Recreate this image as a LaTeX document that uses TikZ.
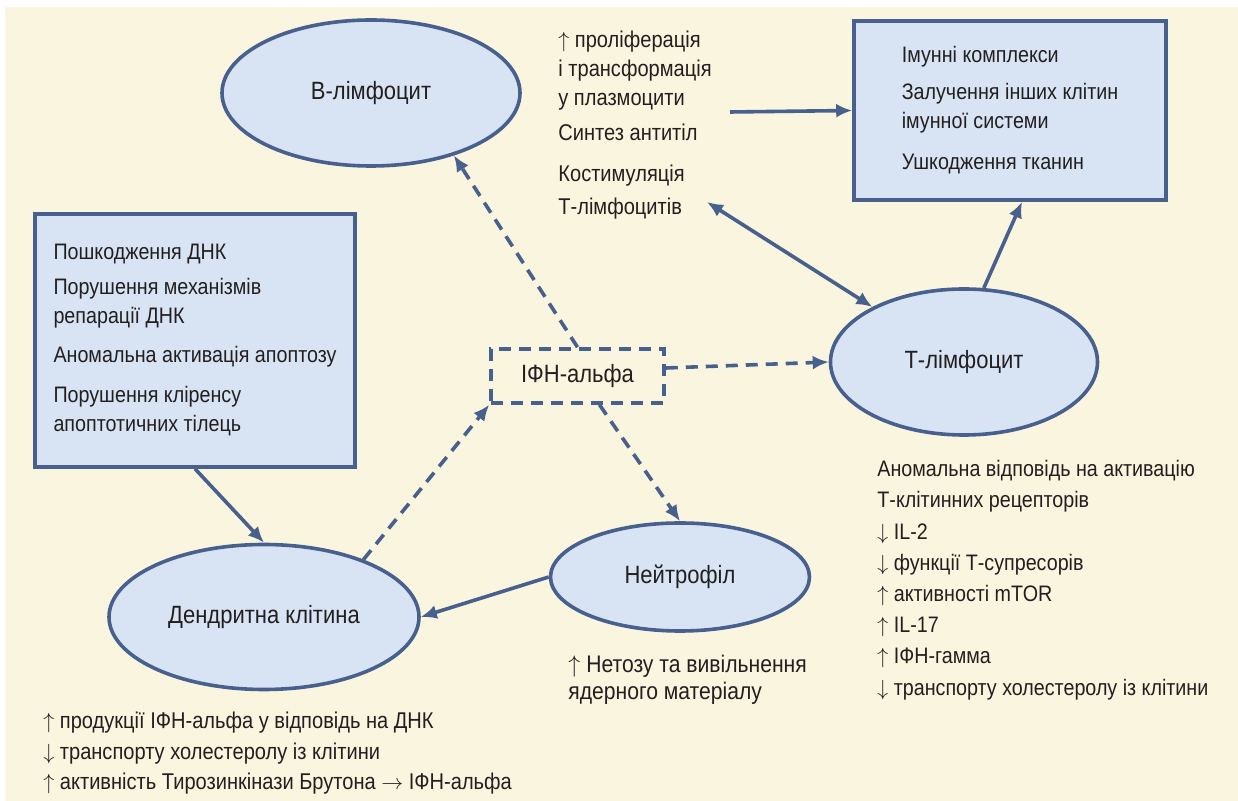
\documentclass[tikz,border=0pt]{standalone}
\usepackage{fontspec}
\setmainfont{Liberation Sans}[FakeStretch=0.88]
\usetikzlibrary{arrows.meta,shapes.geometric}
\definecolor{cream}{RGB}{250,245,222}
\definecolor{cellfill}{RGB}{216,228,244}
\definecolor{cellline}{RGB}{72,96,142}
\definecolor{ink}{RGB}{35,31,32}

\begin{document}
\begin{tikzpicture}[x=0.5pt,y=-0.5pt,
    font=\fontsize{11.2pt}{14.5pt}\selectfont,
    cell/.style={ellipse,draw=cellline,fill=cellfill,line width=1.8pt,
      text=ink,font=\fontsize{12.5pt}{14.5pt}\selectfont},
    fxbox/.style={draw=cellline,fill=cellfill,line width=1.8pt,
      align=left,text=ink},
    txt/.style={align=left,anchor=north west,inner sep=0pt,text=ink},
    arw/.style={draw=cellline,line width=1.8pt,
      -{Latex[length=8pt,width=7pt]}},
    dsh/.style={arw,dash pattern=on 6pt off 4pt} ]
  \useasboundingbox (0,0) rectangle (1238,801);
  \fill[white] (0,0) rectangle (1238,801);
  \fill[cream] (5,7) rectangle (1238,801);
  % cells
  \node[cell,minimum width=149pt,minimum height=73pt] (bcell) at (371,93) {В-лімфоцит};
  \node[cell,minimum width=133.5pt,minimum height=73pt] (tcell) at (964,362) {Т-лімфоцит};
  \node[cell,minimum width=155pt,minimum height=72.5pt] (dcell) at (264,617) {Дендритна клітина};
  \node[cell,minimum width=129.5pt,minimum height=54pt] (ncell) at (680,577) {Нейтрофіл};
  \node[draw=cellline,line width=1.8pt,dash pattern=on 6pt off 4pt,
    minimum width=86.5pt,minimum height=27pt,text=ink,
    font=\fontsize{12.5pt}{14.5pt}\selectfont] (ifn) at (577.5,376) {ІФН-альфа};
  % boxes
  \node[fxbox,minimum width=160pt,minimum height=126.5pt] (dnabox) at (195,340.5)
    {Пошкодження ДНК\\[3pt]
     Порушення механізмів\\
     репарації ДНК\\[5pt]
     Аномальна активація апоптозу\\[5.5pt]
     Порушення кліренсу\\
     апоптотичних тілець};
  \node[fxbox,minimum width=156pt,minimum height=89.5pt] (rbox) at (1010,110.5)
    {Імунні комплекси\\[4pt]
     Залучення інших клітин\\
     імунної системи\\[6pt]
     Ушкодження тканин};
  % effects
  \node[txt,font=\fontsize{11.4pt}{14.5pt}\selectfont] (bfx) at (558,31)
    {$\uparrow$ проліферація\\
     і трансформація\\
     у плазмоцити\\[3pt]
     Синтез антитіл\\[6pt]
     Костимуляція\\[2pt]
     Т-лімфоцитів};
  \node[txt,font=\fontsize{11.2pt}{15.6pt}\selectfont] (tfx) at (877,460)
    {Аномальна відповідь на активацію\\
     Т-клітинних рецепторів\\
     $\downarrow$ IL-2\\
     $\downarrow$ функції Т-супресорів\\
     $\uparrow$ активності mTOR\\
     $\uparrow$ IL-17\\
     $\uparrow$ ІФН-гамма\\
     $\downarrow$ транспорту холестеролу із клітини};
  \node[txt,font=\fontsize{12pt}{13.5pt}\selectfont] (nfx) at (568,655)
    {$\uparrow$ Нетозу та вивільнення\\
     ядерного матеріалу};
  \node[txt,font=\fontsize{11.4pt}{15.25pt}\selectfont] (dcfx) at (43,712)
    {$\uparrow$ продукції ІФН-альфа у відповідь на ДНК\\
     $\downarrow$ транспорту холестеролу із клітини\\
     $\uparrow$ активність Тирозинкінази Брутона $\rightarrow$ ІФН-альфа};
  \coordinate (bfxout) at (730,112);
  \coordinate (costimend) at (707,202);
  % connectors
  \draw[arw] (dnabox.south) -- (dcell.north);
  \draw[dsh] (dcell.30) -- (ifn.south west);
  \draw[dsh] (ifn.north) -- (bcell.-37);
  \draw[dsh] ([yshift=4pt]ifn.east) -- (tcell.west);
  \draw[dsh] ([xshift=11pt]ifn.south) -- (ncell.north);
  \draw[arw] (ncell.west) -- (dcell.east);
  \draw[arw] (tcell.75) -- ([xshift=6pt]rbox.south);
  \draw[arw,{Latex[length=8pt,width=7pt]}-{Latex[length=8pt,width=7pt]}] (costimend) -- (tcell.149);
  \draw[arw] (bfxout) -- (rbox.west);
\end{tikzpicture}
\end{document}
